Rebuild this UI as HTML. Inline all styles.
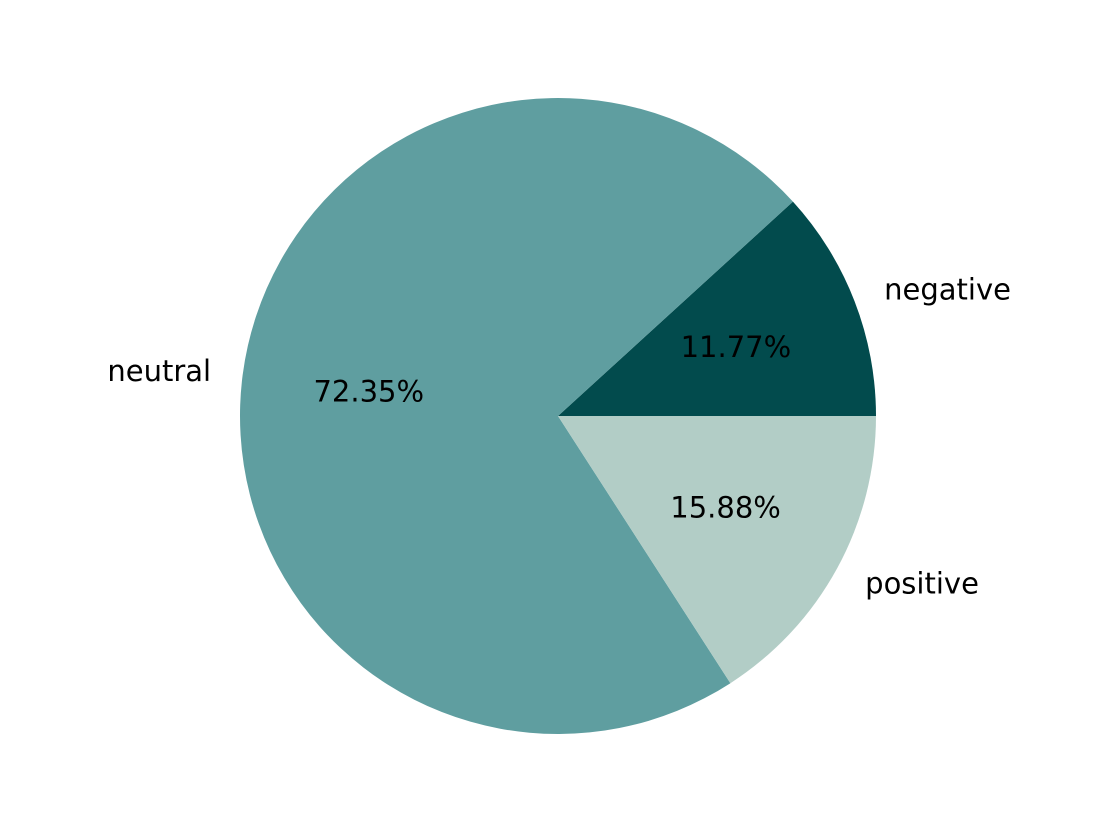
<!DOCTYPE html>
<html><head><meta charset="utf-8"><style>
html,body{margin:0;padding:0;background:#fff;}
svg{display:block;}
text{font-family:"DejaVu Sans","Liberation Sans",sans-serif;font-size:29px;fill:#000;}
</style></head><body>
<svg id="chart" width="1118" height="826" viewBox="0 0 1118 826"></svg>
<script>
const categories = ["negative", "neutral", "positive"];
const values = [11.77, 72.35, 15.88];
const pctLabels = ["11.77%", "72.35%", "15.88%"];
const colors = ["#024b4d", "#5f9ea0", "#b2cdc6"];

const svg = document.getElementById('chart');
const NS = 'http://www.w3.org/2000/svg';
const cx = 558, cy = 416, r = 318;
const total = values.reduce((a, b) => a + b, 0);
function pt(angDeg, rad) {
  const a = angDeg * Math.PI / 180;
  return [cx + rad * Math.cos(a), cy - rad * Math.sin(a)];
}
let start = 0;
values.forEach((v, i) => {
  const sweep = v / total * 360;
  const end = start + sweep;
  const [x1, y1] = pt(start, r);
  const [x2, y2] = pt(end, r);
  const large = sweep > 180 ? 1 : 0;
  const p = document.createElementNS(NS, 'path');
  p.setAttribute('d', `M${cx},${cy} L${x1},${y1} A${r},${r} 0 ${large} 0 ${x2},${y2} Z`);
  p.setAttribute('fill', colors[i]);
  
  
  svg.appendChild(p);
  const mid = start + sweep / 2;
  const [lx, ly] = pt(mid, r * 1.1);
  const t = document.createElementNS(NS, 'text');
  t.setAttribute('x', lx);
  t.setAttribute('y', ly);
  t.setAttribute('dominant-baseline', 'central');
  t.setAttribute('text-anchor', Math.cos(mid * Math.PI / 180) >= 0 ? 'start' : 'end');
  t.textContent = categories[i];
  
  
  svg.appendChild(t);
  const [px, py] = pt(mid, r * 0.6);
  const q = document.createElementNS(NS, 'text');
  q.setAttribute('x', px);
  q.setAttribute('y', py);
  q.setAttribute('dominant-baseline', 'central');
  q.setAttribute('text-anchor', 'middle');
  q.textContent = pctLabels[i];
  
  
  svg.appendChild(q);
  start = end;
});
</script>
</body></html>
